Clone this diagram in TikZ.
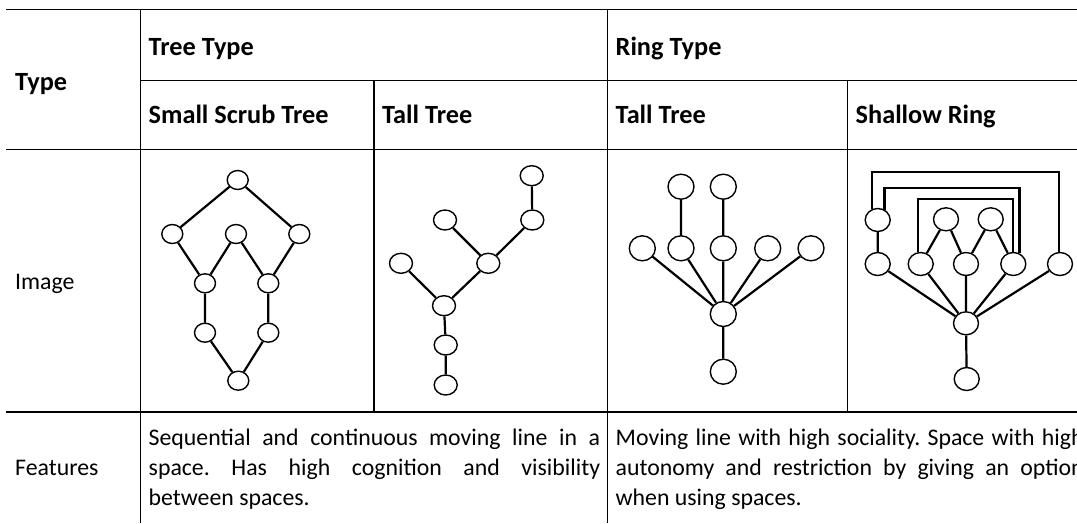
\documentclass[tikz,border=0pt]{standalone}
\usepackage{fontspec}
\setmainfont{Carlito}
\frenchspacing
\usetikzlibrary{shapes.geometric}
\tikzset{
  rule/.style={line width=1.3pt},
  edge/.style={line width=2.2pt},
  vtx/.style={ellipse, draw, line width=1.4pt, fill=white, inner sep=0pt},
  vA/.style={vtx, minimum width=21pt, minimum height=19pt},
  vB/.style={vtx, minimum width=23pt, minimum height=20pt},
  vC/.style={vtx, minimum width=26pt, minimum height=25pt},
  vD/.style={vtx, minimum width=25pt, minimum height=23pt},
  hd/.style={anchor=base west, inner sep=0pt, font=\fontsize{26.3}{31}\selectfont\bfseries},
  txt/.style={anchor=base west, inner sep=0pt, font=\fontsize{23.8}{29}\selectfont},
}
\begin{document}
\begin{tikzpicture}[x=1pt,y=-1pt]
\clip (0,0) rectangle (1077,523);
\fill[white] (0,0) rectangle (1077,523);

% table rules
\draw[rule] (6,9.3) -- (1077,9.3);
\draw[rule] (140.5,80.5) -- (1077,80.5);
\draw[rule] (6,149.5) -- (1077,149.5);
\draw[rule] (6,412) -- (1077,412);
\draw[rule] (140.5,9.3) -- (140.5,523);
\draw[rule] (607.5,9.3) -- (607.5,523);
\draw[rule] (374,80.5) -- (374,412);
\draw[rule] (847.5,80.5) -- (847.5,412);

% header texts
\node[hd] (hType) at (15,90) {Type};
\node[hd] (hTree) at (148.5,55) {Tree Type};
\node[hd] (hRing) at (615.5,55) {Ring Type};
\node[hd] (hScrub) at (148.5,123.5) {Small Scrub Tree};
\node[hd] (hTall) at (382,123.5) {Tall Tree};
\node[hd] (hTallR) at (615.5,123.5) {Tall Tree};
\node[hd] (hShallow) at (855.5,123.5) {Shallow Ring};

% row labels
\node[txt] (lImage) at (15,289) {Image};
\node[txt] (lFeat) at (15,475.5) {Features};

% feature texts, justified line by line
\node[txt] (f1a) at (148.5,445.5) {\makebox[451.5pt][s]{Sequential and continuous moving line in a}};
\node[txt] (f1b) at (148.5,475.5) {\makebox[451.5pt][s]{space. Has high cognition and visibility}};
\node[txt] (f1c) at (148.5,505.5) {between spaces.};
\node[txt] (f2a) at (615.5,445.5) {\makebox[468pt][s]{Moving line with high sociality. Space with high}};
\node[txt] (f2b) at (615.5,475.5) {\makebox[468pt][s]{autonomy and restriction by giving an option}};
\node[txt] (f2c) at (615.5,505.5) {when using spaces.};

% small scrub tree
\node[vA] (a1) at (237.7,180) {};
\node[vA] (a2) at (172.3,234) {};
\node[vA] (a3) at (236,234) {};
\node[vA] (a4) at (299.3,234) {};
\node[vA] (a5) at (205,283.3) {};
\node[vA] (a6) at (268.3,283.3) {};
\node[vA] (a7) at (205,332.7) {};
\node[vA] (a8) at (268.3,332.7) {};
\node[vA] (a9) at (238.3,380.7) {};
\draw[edge] (a1) -- (a2) (a1) -- (a4) (a2) -- (a5) (a3) -- (a5) (a3) -- (a6)
  (a4) -- (a6) (a5) -- (a7) (a6) -- (a8) (a7) -- (a9) (a8) -- (a9);

% tall tree
\node[vB] (b1) at (531.7,175.7) {};
\node[vB] (b2) at (532.3,220) {};
\node[vB] (b3) at (445,220) {};
\node[vB] (b4) at (488.3,263.3) {};
\node[vB] (b5) at (401,263.3) {};
\node[vB] (b6) at (444,305.7) {};
\node[vB] (b7) at (445.7,345) {};
\node[vB] (b8) at (445.7,385) {};
\draw[edge] (b1) -- (b2) (b2) -- (b4) (b3) -- (b4) (b4) -- (b6) (b5) -- (b6)
  (b6) -- (b7) (b7) -- (b8);

% ring type, tall tree
\node[vC] (c1) at (681,186.7) {};
\node[vC] (c2) at (723.3,186.7) {};
\node[vC] (c3) at (642.3,248.3) {};
\node[vC] (c4) at (681,248.3) {};
\node[vC] (c5) at (723.3,248.3) {};
\node[vC] (c6) at (767.7,248.3) {};
\node[vC] (c7) at (811,248.3) {};
\node[vC] (c8) at (723.3,314) {};
\node[vC] (c9) at (723.3,371.7) {};
\draw[edge] (c1) -- (c4) (c2) -- (c5) (c3) -- (c8) (c4) -- (c8) (c5) -- (c8)
  (c6) -- (c8) (c7) -- (c8) (c8) -- (c9);

% shallow ring
\node[vD] (d1) at (877.7,220) {};
\node[vD] (d2) at (877.7,264) {};
\node[vD] (d3) at (920.7,264) {};
\node[vD] (d4) at (966,264) {};
\node[vD] (d5) at (1013.3,264) {};
\node[vD] (d6) at (1060,264) {};
\node[vD] (d7) at (946,219.3) {};
\node[vD] (d8) at (990.7,219.3) {};
\node[vD] (d9) at (966,323.3) {};
\node[vD] (d10) at (966.7,379) {};
\draw[edge] (d1) -- (d2) (d2) -- (d9) (d3) -- (d9) (d4) -- (d9) (d5) -- (d9)
  (d6) -- (d9) (d9) -- (d10) (d7) -- (d3) (d7) -- (d4) (d8) -- (d4) (d8) -- (d5);
\coordinate (ya) at (0,171.7);
\coordinate (yb) at (0,187.7);
\coordinate (yc) at (0,199);
\draw[edge] (d1.117) -- (d1.117 |- ya) -| (d6.95);
\draw[edge] (d1.57) -- (d1.57 |- yb) -| (d5.60);
\draw[edge] (d3.102) -- (d3.102 |- yc) -| (d5.90);
\end{tikzpicture}
\end{document}
